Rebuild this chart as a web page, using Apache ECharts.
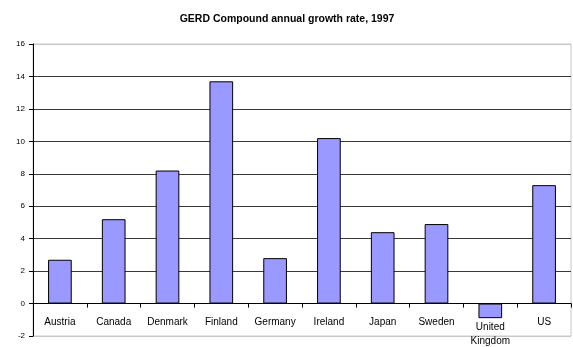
<!DOCTYPE html>
<html><head><meta charset="utf-8">
<script src="https://cdn.jsdelivr.net/npm/echarts@6/dist/echarts.min.js"></script>
<style>html,body{margin:0;padding:0;background:#fff}#c{width:573px;height:347px}</style>
</head><body><div id="c"></div>
<script>
const categories = ['Austria','Canada','Denmark','Finland','Germany','Ireland','Japan','Sweden','United\nKingdom','US'];
const values = [2.7, 5.2, 8.2, 13.7, 2.8, 10.2, 4.4, 4.9, -0.9, 7.3];
const titleText = 'GERD Compound annual growth rate, 1997';
const yMin = -2, yMax = 16, yStep = 2;

const chart = echarts.init(document.getElementById('c'), null, {renderer:'canvas'});
const splitColors = [];
for (let v = yMin; v <= yMax; v += yStep) splitColors.push((v === yMin || v === yMax) ? '#c8c8c8' : '#3a3a3a');
chart.setOption({
  animation: false,
  backgroundColor: '#fff',
  title: {
    text: titleText, left: 282, top: 9, textAlign: 'center',
    textStyle: {fontFamily: 'Liberation Sans', fontSize: 10.5, fontWeight: 'bold', color: '#000'}
  },
  grid: {left: 33, right: 2, top: 44, bottom: 11, show: true, borderColor: '#c8c8c8', borderWidth: 1,
         outerBoundsMode: 'none'},
  xAxis: {
    type: 'category', data: categories,
    axisLine: {onZero: true, lineStyle: {color: '#000', width: 1}},
    axisTick: {show: true, alignWithLabel: false, length: 4, lineStyle: {color: '#000'}},
    axisLabel: {
      fontFamily: 'Liberation Sans', fontSize: 10, color: '#000', margin: -19, interval: 0,
      formatter: function (v) { return v.indexOf('\n') >= 0 ? '{u|' + v + '}' : v; },
      rich: {u: {fontFamily: 'Liberation Sans', fontSize: 10, color: '#000', lineHeight: 14, padding: [7,0,0,0]}}
    }
  },
  yAxis: {
    type: 'value', min: yMin, max: yMax, interval: yStep,
    axisLine: {show: true, lineStyle: {color: '#000', width: 1}},
    axisTick: {show: true, length: 4, lineStyle: {color: '#000'}},
    axisLabel: {fontFamily: 'Liberation Sans', fontSize: 8, color: '#000', margin: 8},
    splitLine: {show: true, lineStyle: {color: splitColors, width: 1}}
  },
  series: [{
    type: 'bar', data: values, barWidth: '44%',
    itemStyle: {color: '#9999FF', borderColor: '#000', borderWidth: 1}
  }]
});
</script></body></html>
